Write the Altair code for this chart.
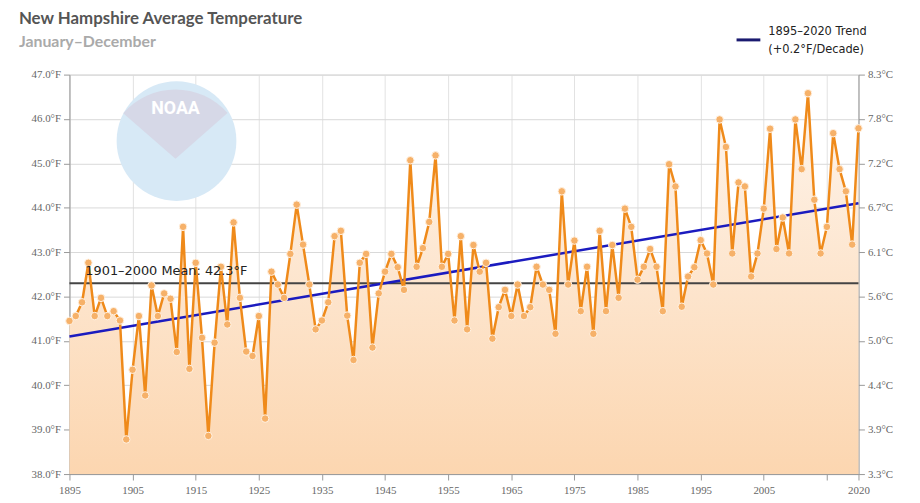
import altair as alt
import pandas as pd

years = list(range(1895, 2021))
temps = [
    41.45, 41.56, 41.87, 42.76, 41.56, 41.97, 41.56, 41.67, 41.46, 38.78,  # 1895-1904
    40.35, 41.56, 39.77, 42.25, 41.56, 42.07, 41.95, 40.75, 43.57, 40.37,  # 1905-1914
    42.76, 41.07, 38.86, 40.96, 42.67, 41.37, 43.67, 41.97, 40.76, 40.66,  # 1915-1924
    41.56, 39.25, 42.56, 42.27, 41.97, 42.96, 44.07, 43.17, 42.27, 41.26,  # 1925-1934
    41.46, 41.87, 43.36, 43.48, 41.57, 40.57, 42.76, 42.96, 40.85, 42.07,  # 1935-1944
    42.56, 42.96, 42.66, 42.15, 45.07, 42.67, 43.09, 43.68, 45.18, 42.67,  # 1945-1954
    42.96, 41.46, 43.36, 41.26, 43.16, 42.56, 42.76, 41.05, 41.76, 42.15,  # 1955-1964
    41.56, 42.27, 41.56, 41.76, 42.67, 42.27, 42.15, 41.16, 44.37, 42.27,  # 1965-1974
    43.26, 41.67, 42.67, 41.16, 43.48, 41.67, 43.16, 41.97, 43.98, 43.57,  # 1975-1984
    42.38, 42.67, 43.07, 42.67, 41.67, 44.98, 44.48, 41.77, 42.45, 42.66,  # 1985-1994
    43.27, 42.97, 42.27, 45.99, 45.37, 42.97, 44.57, 44.48, 42.45, 42.97,  # 1995-2004
    43.98, 45.78, 43.07, 43.78, 42.97, 45.99, 44.87, 46.58, 44.18, 42.97,  # 2005-2014
    43.57, 45.68, 44.87, 44.37, 43.17, 45.79,                              # 2015-2020
]
mean_value = 42.3
trend_years = [1895, 2020]
trend_values = [41.1, 44.1]
x_tick_values = [1895, 1905, 1915, 1925, 1935, 1945, 1955, 1965, 1975, 1985, 1995, 2005, 2015, 2020]
y_tick_values = [38, 39, 40, 41, 42, 43, 44, 45, 46, 47]

title_text = "New Hampshire Average Temperature"
subtitle_text = "January\u2013December"
legend_line1 = "1895\u20132020 Trend"
legend_line2 = "(+0.2\u00b0F/Decade)"
mean_label = "1901\u20132000 Mean: 42.3\u00b0F"

df = pd.DataFrame({"year": years, "temp": temps})
trend_df = pd.DataFrame({"year": trend_years, "temp": trend_values})

W, H = 796, 403
xscale = alt.Scale(domain=[1895, 2020], nice=False, zero=False)
yscale = alt.Scale(domain=[38, 47], nice=False, zero=False)

axis_font = "Liberation Serif"
x_axis = alt.Axis(
    values=x_tick_values, format="d",
    labelExpr="datum.value == 2015 ? '' : datum.label",
    grid=True, gridColor="#e2e2e2", gridWidth=1,
    domainColor="#999999", tickColor="#999999", tickSize=6,
    labelFont=axis_font, labelFontSize=11, labelColor="#666666",
    labelPadding=5, title=None, labelFlush=False,
)
y_axis_left = alt.Axis(
    values=y_tick_values,
    labelExpr="format(datum.value, '.1f') + '\u00b0F'",
    grid=True, gridColor="#d9d9d9", gridWidth=1,
    domainColor="#999999", tickColor="#999999", tickSize=6,
    labelFont=axis_font, labelFontSize=11, labelColor="#666666",
    labelPadding=3, title=None,
)
y_axis_right = alt.Axis(
    orient="right", values=y_tick_values,
    labelExpr="format((datum.value - 32) * 5 / 9, '.1f') + '\u00b0C'",
    grid=False, domainColor="#999999", tickColor="#999999", tickSize=6,
    labelFont=axis_font, labelFontSize=11, labelColor="#666666",
    labelPadding=3, title=None,
)

X = alt.X("year:Q", scale=xscale, axis=x_axis)
Y = alt.Y("temp:Q", scale=yscale, axis=y_axis_left)

base = alt.Chart(df)

area = base.mark_area(
    color=alt.Gradient(
        gradient="linear",
        stops=[alt.GradientStop(color="#fef4eb", offset=0),
               alt.GradientStop(color="#fcd6b0", offset=1)],
        x1=0, x2=0, y1=0, y2=1,
    ),
    opacity=1,
).encode(x=X, y=Y, y2=alt.Y2(datum=38))

# NOAA watermark (decorative)
one = pd.DataFrame({"a": [0]})
logo_circle = alt.Chart(one).mark_circle(
    color="#d7e9f6", opacity=1
).encode(x=alt.value(108), y=alt.value(67), size=alt.value(14600))
logo_arc = alt.Chart(one).mark_arc(
    color="#d6d8e7", radius=70, theta=5.43, theta2=7.13
).encode(x=alt.value(107), y=alt.value(85))
logo_text = alt.Chart(one).mark_text(
    text="NOAA", font="Roboto", fontSize=18, fontWeight="bold", color="#ffffff",
    baseline="middle",
).encode(x=alt.value(107), y=alt.value(35))

mean_rule = alt.Chart(pd.DataFrame({"temp": [mean_value]})).mark_rule(
    color="#444444", strokeWidth=2
).encode(y=alt.Y("temp:Q", scale=yscale, axis=y_axis_left))

trend = alt.Chart(trend_df).mark_line(color="#1b1bbf", strokeWidth=2.5).encode(
    x=alt.X("year:Q", scale=xscale, axis=x_axis),
    y=alt.Y("temp:Q", scale=yscale, axis=y_axis_left),
)

line = base.mark_line(color="#ef8a1a", strokeWidth=2.5).encode(x=X, y=Y)
points = base.mark_circle(
    color="#f6b169", opacity=1, size=58, stroke="#fff2e4", strokeWidth=1
).encode(x=X, y=Y)

mean_text = alt.Chart(pd.DataFrame({"temp": [mean_value]})).mark_text(
    text=mean_label, align="left", baseline="middle", dy=-12,
    font="DejaVu Sans", fontSize=13, color="#222222",
).encode(x=alt.value(16), y=alt.Y("temp:Q", scale=yscale, axis=y_axis_left))

title_mark = alt.Chart(one).mark_text(
    text=title_text, align="left", baseline="middle",
    font="Lato", fontSize=17, fontWeight="bold", color="#555555",
).encode(x=alt.value(-51), y=alt.value(-56))
subtitle_mark = alt.Chart(one).mark_text(
    text=subtitle_text, align="left", baseline="middle",
    font="Lato", fontSize=16, fontWeight="bold", color="#aaaaaa",
).encode(x=alt.value(-51), y=alt.value(-33))
legend_swatch = alt.Chart(one).mark_rule(color="#1a1a70", strokeWidth=3).encode(
    x=alt.value(673), x2=alt.value(697), y=alt.value(-35)
)
legend_t1 = alt.Chart(one).mark_text(
    text=legend_line1, align="left", baseline="middle",
    font="DejaVu Sans", fontSize=11.5, color="#222222",
).encode(x=alt.value(705), y=alt.value(-43))
legend_t2 = alt.Chart(one).mark_text(
    text=legend_line2, align="left", baseline="middle",
    font="DejaVu Sans", fontSize=11.5, color="#222222",
).encode(x=alt.value(705), y=alt.value(-25))

main = alt.layer(
    area, logo_circle, logo_arc, logo_text, mean_rule, trend, line, points,
    mean_text, title_mark, subtitle_mark, legend_swatch, legend_t1, legend_t2,
)

right = alt.Chart(pd.DataFrame({"temp": [38]})).mark_rule(opacity=0).encode(
    y=alt.Y("temp:Q", scale=yscale, axis=y_axis_right)
)

chart = alt.layer(main, right).resolve_scale(y="independent").properties(
    width=W, height=H,
    autosize=alt.AutoSizeParams(type="none"),
    padding={"left": 62, "top": 65, "right": 54, "bottom": 27},
    background="#ffffff",
).configure_view(stroke="#d6d6d6")

chart.save("out.html", embed_options={"renderer": "svg", "actions": False})
